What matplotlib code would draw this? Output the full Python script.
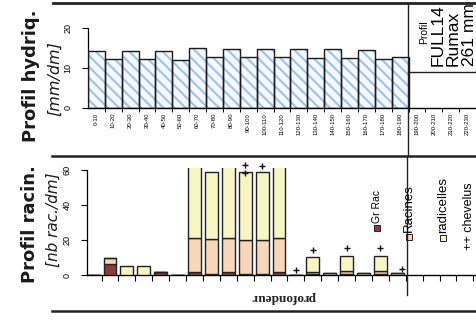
import matplotlib
matplotlib.use("Agg")
import matplotlib.pyplot as plt
from matplotlib.patches import Rectangle
from matplotlib.lines import Line2D
import numpy as np

plt.rcParams['font.family'] = ['Liberation Sans', 'DejaVu Sans']
plt.rcParams['hatch.linewidth'] = 1.5

# depth classes (cm)
depth_labels = ["0-10", "10-20", "20-30", "30-40", "40-50", "50-60", "60-70", "70-80",
                "80-90", "90-100", "100-110", "110-120", "120-130", "130-140", "140-150",
                "150-160", "160-170", "170-180", "180-190", "190-200", "200-210",
                "210-220", "220-230"]

# water profile [mm/dm], only down to 190 cm
hydriq = [14.3, 12.2, 14.3, 12.2, 14.3, 12.0, 14.9, 12.8, 14.8, 12.7, 14.8, 12.7,
          14.7, 12.5, 14.7, 12.4, 14.5, 12.3, 12.8]

# root profile [nb rac./dm], stacked
gr_rac = [0, 6.0, 0, 0, 1.8, 0, 1.5, 0.5, 1.5, 0.5, 0.4, 1.5, 0, 0.5, 0, 0.5, 0, 0.5, 0]
racines = [0, 3.5, 0, 0, 0, 0, 19.5, 20.0, 19.8, 19.5, 19.6, 19.5, 0, 1.3, 1.0, 1.5, 1.0, 1.5, 1.0]
radicelles = [0, 0, 5.0, 5.0, 0, 0, 50, 38.5, 50, 39.0, 39.0, 50, 0, 8.2, 0, 9.0, 0, 9.0, 0]

# chevelus markers (+)
chev_x = [9, 9, 10, 12, 13, 15, 17, 18.3]
chev_y = [62.5, 58.0, 62.0, 3.0, 14.5, 15.3, 15.3, 3.5]

W, H = 476, 320
fig = plt.figure(figsize=(W / 100, H / 100), dpi=100)
fig.patch.set_facecolor("white")


def fx(px):
    return px / W


def fy(py):
    return 1 - py / H


def hline(y, x0, x1, lw=1.6):
    fig.add_artist(Line2D([fx(x0), fx(x1)], [fy(y), fy(y)], color="#222222", lw=lw))


def vline(x, y0, y1, lw=1.0):
    fig.add_artist(Line2D([fx(x), fx(x)], [fy(y0), fy(y1)], color="#222222", lw=lw))


n = len(depth_labels)
pos = np.arange(n)

# ---------------- upper panel: water profile
ax1 = fig.add_axes([fx(88), fy(108), fx(476) - fx(88), fy(28) - fy(108)])
step1 = 16.95
ax1.set_xlim(-0.5, -0.5 + (476 - 88) / step1)
ax1.set_ylim(0, 20)
ax1.bar(pos[:len(hydriq)], hydriq, width=1.0, color="#f4f8fc", edgecolor="#9cc3e8",
        hatch="\\\\\\", linewidth=0, zorder=2)
ax1.bar(pos[:len(hydriq)], hydriq, width=1.0, fill=False, edgecolor="#1a1a1a",
        linewidth=1.0, zorder=3)
ax1.set_yticks([0, 10, 20])
ax1.set_yticklabels(["0", "10", "20"], rotation=90, va="center", fontsize=6.5)
ax1.tick_params(axis="y", length=4, width=0.8, pad=7)
ax1.set_xticks(pos)
ax1.set_xticklabels(depth_labels, rotation=90, fontsize=4.3)
ax1.set_xticks(np.arange(n) + 0.5, minor=True)
ax1.tick_params(axis="x", which="major", length=0, pad=3.6)
ax1.tick_params(axis="x", which="minor", length=3, width=0.7)
for s in ["top", "right"]:
    ax1.spines[s].set_visible(False)
ax1.spines["left"].set_bounds(0, 20)
ax1.spines["left"].set_linewidth(0.9)
ax1.spines["bottom"].set_linewidth(1.0)
ax1.set_facecolor("none")

# ---------------- lower panel: root profile
ax2 = fig.add_axes([fx(87), fy(275), fx(476) - fx(87), fy(168) - fy(275)])
step2 = 16.9
x0_2 = (87 - 93.1) / step2
ax2.set_xlim(x0_2, x0_2 + (476 - 87) / step2)
ax2.set_ylim(0, 61)
p = pos[:len(gr_rac)]
bw = 0.76
gr = np.array(gr_rac)
ra = np.array(racines)
rd = np.array(radicelles)
ax2.bar(p, gr, width=bw, color="#8e3a3c", edgecolor="#222222", linewidth=1.0, zorder=3)
ax2.bar(p, ra, width=bw, bottom=gr, color="#f8d7b9", edgecolor="#222222", linewidth=1.0, zorder=3)
ax2.bar(p, rd, width=bw, bottom=gr + ra, color="#f8f5c4", edgecolor="#222222", linewidth=1.0, zorder=3)
ax2.plot(chev_x, chev_y, "+", color="#111111", ms=5, mew=1.0, clip_on=False, zorder=4)
ax2.set_yticks([0, 20, 40, 60])
ax2.set_yticklabels(["0", "20", "40", "60"], rotation=90, va="center", fontsize=6.5)
ax2.tick_params(axis="y", length=4, width=0.8, pad=7)
ax2.set_xticks([])
ax2.set_xticks(np.arange(n) + 0.5, minor=True)
ax2.tick_params(axis="x", which="minor", length=4, width=0.8)
for s in ["top", "right"]:
    ax2.spines[s].set_visible(False)
ax2.spines["left"].set_bounds(0, 60)
ax2.spines["left"].set_linewidth(0.9)
ax2.spines["bottom"].set_linewidth(1.0)
ax2.set_facecolor("none")

# ---------------- frame lines
hline(3, 53, 476, lw=2.0)
hline(156, 52, 476, lw=1.8)
hline(311, 52, 476, lw=1.8)
vline(408, 3, 156, lw=1.0)
vline(407, 157, 295, lw=1.0)
hline(72, 408, 476, lw=1.0)

# ---------------- texts
fig.text(fx(31), fy(76), "Profil hydriq.", rotation=90, ha="center", va="center",
         fontsize=13, fontweight="bold", family="DejaVu Sans", color="#1a1a1a")
fig.text(fx(55), fy(79), "[mm/dm]", rotation=90, ha="center", va="center",
         fontsize=11.5, style="italic", family="DejaVu Sans", color="#1a1a1a")
fig.text(fx(30), fy(224), "Profil racin.", rotation=90, ha="center", va="center",
         fontsize=13, fontweight="bold", family="DejaVu Sans", color="#1a1a1a")
fig.text(fx(53), fy(220), "[nb rac./dm]", rotation=90, ha="center", va="center",
         fontsize=11, style="italic", family="DejaVu Sans", color="#1a1a1a")

fig.text(fx(424), fy(44), "Profil", rotation=90, ha="center", va="bottom", fontsize=7.5)
fig.text(fx(438), fy(66), "FULL14", rotation=90, ha="center", va="bottom", fontsize=12.5)
fig.text(fx(453), fy(66), "Rumax", rotation=90, ha="center", va="bottom", fontsize=12.5)
fig.text(fx(469), fy(66), "261 mm", rotation=90, ha="center", va="bottom", fontsize=12.5)

fig.text(fx(283), fy(297), "profondeur", rotation=180, ha="center", va="center",
         fontsize=9.5, family="Liberation Serif", fontweight="bold", color="#222222")

# legend of the root profile
legend_items = [("Gr Rac", "#8e3a3c", 377, 228, 7.5),
                ("Racines", "#f8d7b9", 409, 237, 9.5),
                ("radicelles", "#f8f5c4", 443, 238, 9.5)]
for label, col, lx, ly, fs in legend_items:
    fig.add_artist(Rectangle((fx(lx) - 3 / W, fy(ly) - 3 / H), 6 / W, 6 / H,
                             facecolor=col, edgecolor="#222222", lw=0.7))
    fig.text(fx(lx), fy(ly - 5), label, rotation=90, ha="center", va="bottom", fontsize=fs)
fig.text(fx(469), fy(250), "++ chevelus", rotation=90, ha="center", va="bottom", fontsize=9)

fig.savefig("out.png", dpi=100)
